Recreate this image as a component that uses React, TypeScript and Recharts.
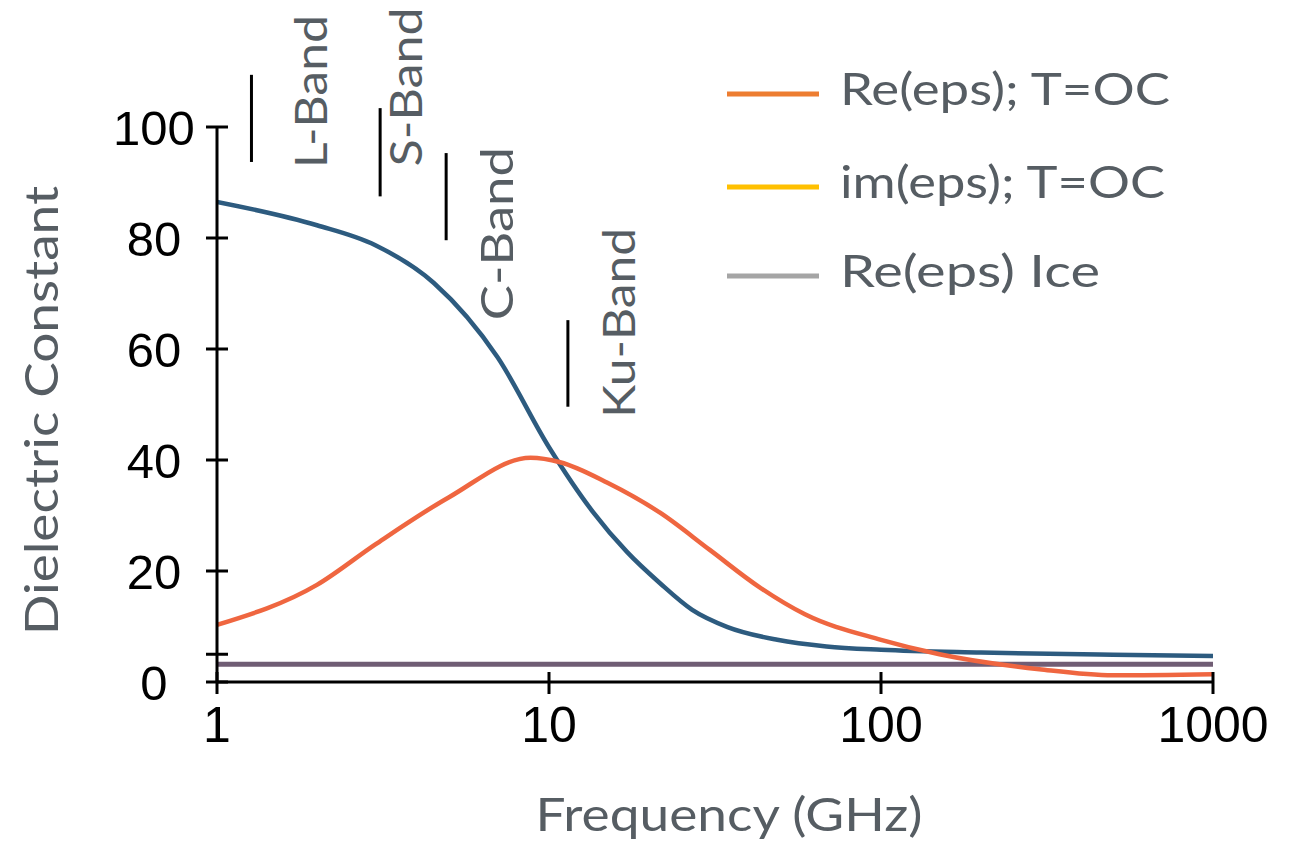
import React from 'react';
import { LineChart, Line, XAxis, YAxis, Legend, ReferenceLine, ReferenceDot } from 'recharts';

// blue curve (water, real part) - not in the legend
const freqWater = [1, 2, 3, 4.5, 7, 10, 13.5, 17.2, 21.6, 27, 34.5, 48.7, 68.5, 100, 200, 500, 1000];
const epsWater = [86.5, 82.3, 78.7, 71.9, 58.5, 42.3, 30.8, 23.4, 17.8, 13, 9.9, 7.6, 6.4, 5.8, 5.3, 4.9, 4.7];

// orange curve
const freqRe = [1, 2, 3, 5, 8.8, 10.8, 15, 21.6, 30.5, 43, 59, 100, 150, 300, 500, 1000];
const epsRe = [10.3, 17.5, 24.8, 33.3, 40.4, 39.6, 35.9, 30.5, 23.8, 17.1, 12.2, 7.6, 5.0, 2.3, 1.2, 1.4];

// ice, flat
const freqIce = [1, 1000];
const epsIce = [3.2, 3.2];

const xTicks = [1, 10, 100, 1000];
const yTicks = [0, 5, 20, 40, 60, 80, 100];

// band markers
const bandNames = ['L-Band', 'S-Band', 'C-Band', 'Ku-Band'];
const bandFreq = [1.27, 3.1, 4.9, 11.4];
const bandTop = [109.4, 103.4, 95.3, 65.2];
const bandBottom = [93.7, 87.5, 79.6, 49.6];
const bandLabelFreq = [1.92, 3.72, 7.0, 16.3];
const bandLabelVal = [92.6, 92.9, 65.2, 47.6];
const bandLabelLen = [153, 159, 173, 190];

const legendNames = ['Re(eps); T=OC', 'im(eps); T=OC', 'Re(eps) Ice'];
const legendColors = ['#ed7d31', '#ffc000', '#a5a5a5'];
const legendLen = [330, 325, 260];

const toRows = (xs: number[], ys: number[]) => xs.map((f, i) => ({ f, v: ys[i] }));

const waterData = toRows(freqWater, epsWater);
const reData = toRows(freqRe, epsRe);
const iceData = toRows(freqIce, epsIce);

const GRAY = '#565d63';
const TITLE_FONT = 'Lato, "Open Sans", sans-serif';
const TICK_FONT = '"Liberation Sans", Arial, sans-serif';

const XTick = (props: any) => {
  const { x, y, payload } = props;
  return (
    <g>
      <line x1={x} x2={x} y1={y - 10} y2={y + 12} stroke="#000" strokeWidth={3} />
      <text x={x} y={y + 60} textAnchor="middle" fontSize={50} fontFamily={TICK_FONT} fill="#000">
        {payload.value}
      </text>
    </g>
  );
};

const YTick = (props: any) => {
  const { x, y, payload } = props;
  return (
    <g>
      <line x1={x - 11} x2={x + 11} y1={y} y2={y} stroke="#000" strokeWidth={3} />
      {payload.value !== 5 && (
        <text x={x - 63} y={y} dy="0.36em" textAnchor="middle" fontSize={49} fontFamily={TICK_FONT} fill="#000">
          {payload.value}
        </text>
      )}
    </g>
  );
};

const BandLabel = (name: string, len: number) => (props: any) => {
  const { cx, cy } = props;
  return (
    <text
      x={cx}
      y={cy}
      dy="0.36em"
      transform={`rotate(-90 ${cx} ${cy})`}
      fontSize={44}
      fontFamily={TITLE_FONT}
      fill={GRAY}
      textLength={len}
      lengthAdjust="spacingAndGlyphs"
    >
      {name}
    </text>
  );
};

const renderLegend = () => (
  <svg width={480} height={260}>
    {legendNames.map((n, i) => {
      const ly = [36, 129, 218][i];
      return (
        <g key={n}>
          <line x1={0} x2={92} y1={ly} y2={ly} stroke={legendColors[i]} strokeWidth={5} />
          <text
            x={113}
            y={ly + 11}
            fontSize={44}
            fontFamily={TITLE_FONT}
            fill={GRAY}
            textLength={legendLen[i]}
            lengthAdjust="spacingAndGlyphs"
          >
            {n}
          </text>
        </g>
      );
    })}
  </svg>
);

export default function App() {
  return (
    <LineChart width={1283} height={832} margin={{ top: 119, right: 78, bottom: 0, left: 0 }}>
      <XAxis
        dataKey="f"
        type="number"
        scale="log"
        domain={[1, 1000]}
        ticks={xTicks}
        allowDataOverflow
        height={158}
        tickSize={0}
        tickMargin={0}
        tickLine={false}
        tick={<XTick />}
        axisLine={{ stroke: '#000', strokeWidth: 3 }}
        label={({ viewBox }: any) => (
          <text
            x={viewBox.x + viewBox.width / 2 + 14}
            y={viewBox.y + 149}
            textAnchor="middle"
            fontSize={46}
            fontFamily={TITLE_FONT}
            fill={GRAY}
            textLength={387}
            lengthAdjust="spacingAndGlyphs"
          >
            Frequency (GHz)
          </text>
        )}
      />
      <YAxis
        type="number"
        domain={[0, 100]}
        ticks={yTicks}
        width={209}
        tickSize={0}
        tickMargin={0}
        tickLine={false}
        tick={<YTick />}
        axisLine={{ stroke: '#000', strokeWidth: 3 }}
        label={({ viewBox }: any) => {
          const cx = viewBox.x + 33;
          const cy = viewBox.y + viewBox.height / 2 + 6;
          return (
            <text
              x={cx}
              y={cy}
              dy="0.36em"
              textAnchor="middle"
              transform={`rotate(-90 ${cx} ${cy})`}
              fontSize={46}
              fontFamily={TITLE_FONT}
              fill={GRAY}
              textLength={449}
              lengthAdjust="spacingAndGlyphs"
            >
              Dielectric Constant
            </text>
          );
        }}
      />
      <Legend
        layout="horizontal"
        verticalAlign="middle"
        align="center"
        content={renderLegend}
        wrapperStyle={{ position: 'absolute', top: 50, left: 719, width: 480, height: 260 }}
      />
      {bandNames.map((n, i) => (
        <ReferenceLine
          key={`bl-${n}`}
          ifOverflow="visible"
          segment={[
            { x: bandFreq[i], y: bandBottom[i] },
            { x: bandFreq[i], y: bandTop[i] },
          ]}
          stroke="#000"
          strokeWidth={3}
        />
      ))}
      {bandNames.map((n, i) => (
        <ReferenceDot
          key={`bt-${n}`}
          x={bandLabelFreq[i]}
          y={bandLabelVal[i]}
          r={0}
          ifOverflow="visible"
          shape={BandLabel(n, bandLabelLen[i])}
        />
      ))}
      <Line
        data={iceData}
        dataKey="v"
        type="linear"
        stroke="#705d74"
        strokeWidth={5}
        dot={false}
        isAnimationActive={false}
      />
      <Line
        data={waterData}
        dataKey="v"
        type="monotone"
        stroke="#2d5b7f"
        strokeWidth={4.5}
        dot={false}
        isAnimationActive={false}
      />
      <Line
        data={reData}
        dataKey="v"
        type="monotone"
        stroke="#ef6640"
        strokeWidth={4.5}
        dot={false}
        isAnimationActive={false}
      />
    </LineChart>
  );
}
